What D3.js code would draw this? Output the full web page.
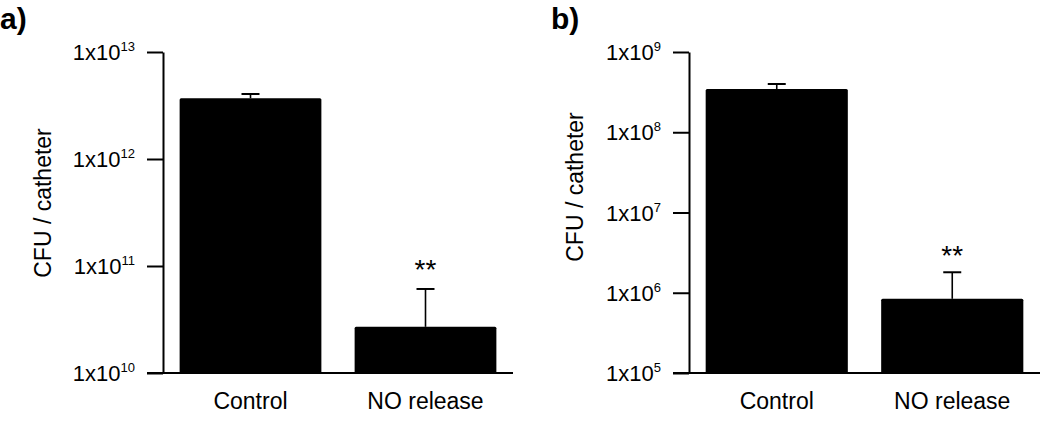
<!DOCTYPE html>
<html>
<head>
<meta charset="utf-8">
<script src="https://cdn.jsdelivr.net/npm/d3@7"></script>
<style>
  body { margin: 0; background: #fff; }
  text { font-family: "Liberation Sans", Arial, sans-serif; fill: #000; }
</style>
</head>
<body>
<div id="chart"></div>
<script>
// data
var categories = ["Control", "NO release"];
var meansA = [3.7e12, 2.7e10],
    sdA    = [0.35e12, 3.4e10];
var meansB = [3.46e8, 8.4e5],
    sdB    = [0.53e8, 9.6e5];
var ticksA = [1e10, 1e11, 1e12, 1e13],
    ticksB = [1e5, 1e6, 1e7, 1e8, 1e9];
var starsA = ["", "**"], starsB = ["", "**"];

var W = 1050, H = 427,
    yTop = 52, yBottom = 373, tickLen = 16;

var svg = d3.select("#chart").append("svg")
    .attr("width", W)
    .attr("height", H);

function panel(opt) {
  var g = svg.append("g");

  var y = d3.scaleLog()
      .domain([opt.ticks[0], opt.ticks[opt.ticks.length - 1]])
      .range([yBottom, yTop]);

  var x = d3.scaleBand()
      .domain(categories)
      .range([opt.axisX, opt.xEnd])
      .paddingInner(0.19)
      .paddingOuter(0.095);

  // bars
  g.selectAll(".bar")
    .data(opt.means)
    .enter().append("rect")
      .attr("x", function(d, i) { return x(categories[i]); })
      .attr("y", function(d) { return y(d); })
      .attr("width", x.bandwidth())
      .attr("height", function(d) { return yBottom - y(d); })
      .attr("rx", 1.5)
      .style("fill", "#000");

  // error bars (upper only)
  var eb = g.selectAll(".err")
    .data(opt.means)
    .enter().append("g");
  eb.append("line")
      .attr("x1", function(d, i) { return x(categories[i]) + x.bandwidth() / 2; })
      .attr("x2", function(d, i) { return x(categories[i]) + x.bandwidth() / 2; })
      .attr("y1", function(d) { return y(d); })
      .attr("y2", function(d, i) { return y(d + opt.sd[i]); })
      .style("stroke", "#000").style("stroke-width", 1.6);
  eb.append("line")
      .attr("x1", function(d, i) { return x(categories[i]) + x.bandwidth() / 2 - 9; })
      .attr("x2", function(d, i) { return x(categories[i]) + x.bandwidth() / 2 + 9; })
      .attr("y1", function(d, i) { return y(d + opt.sd[i]); })
      .attr("y2", function(d, i) { return y(d + opt.sd[i]); })
      .style("stroke", "#000").style("stroke-width", 2);

  // significance stars
  g.selectAll(".star")
    .data(opt.stars)
    .enter().append("text")
      .attr("x", function(d, i) { return x(categories[i]) + x.bandwidth() / 2; })
      .attr("y", function(d, i) { return y(opt.means[i] + opt.sd[i]) - opt.starGap; })
      .style("text-anchor", "middle")
      .style("font-size", "28px")
      .text(function(d) { return d; });

  // y axis
  var yAxis = g.append("g")
      .attr("transform", "translate(" + opt.axisX + ",0)")
      .call(d3.axisLeft(y).tickValues(opt.ticks).tickSize(tickLen).tickSizeOuter(0).tickFormat(""));
  yAxis.selectAll("path, line").style("stroke", "#000").style("stroke-width", 2);

  var lab = g.selectAll(".ylab")
    .data(opt.ticks)
    .enter().append("text")
      .attr("x", opt.axisX - tickLen - 12)
      .attr("y", function(d) { return y(d) + 8; })
      .style("text-anchor", "end")
      .style("font-size", "22px");
  lab.append("tspan").text("1x10");
  lab.append("tspan")
      .attr("dy", -9)
      .style("font-size", "13px")
      .text(function(d) { return Math.round(Math.log10(d)); });

  // x axis baseline
  g.append("line")
      .attr("x1", opt.axisX - tickLen)
      .attr("x2", opt.xEnd)
      .attr("y1", yBottom)
      .attr("y2", yBottom)
      .style("stroke", "#000").style("stroke-width", 2);

  g.selectAll(".xlab")
    .data(categories)
    .enter().append("text")
      .attr("x", function(d) { return x(d) + x.bandwidth() / 2; })
      .attr("y", 409)
      .style("text-anchor", "middle")
      .style("font-size", "23px")
      .text(function(d) { return d; });

  // axis title
  g.append("text")
      .attr("transform", "translate(" + opt.titleX + "," + opt.titleY + ") rotate(-90)")
      .style("text-anchor", "middle")
      .style("font-size", "23px")
      .text("CFU / catheter");

  // panel letter
  g.append("text")
      .attr("x", opt.letterX)
      .attr("y", 29)
      .style("font-size", "30px")
      .style("font-weight", 700)
      .text(opt.letter);
}

panel({ means: meansA, sd: sdA, ticks: ticksA, stars: starsA,
        axisX: 163, xEnd: 513, titleX: 51, titleY: 203, starGap: 10,
        letter: "a)", letterX: 0 });
panel({ means: meansB, sd: sdB, ticks: ticksB, stars: starsB,
        axisX: 689, xEnd: 1040, titleX: 583, titleY: 187, starGap: 7,
        letter: "b)", letterX: 551 });
</script>
</body>
</html>
